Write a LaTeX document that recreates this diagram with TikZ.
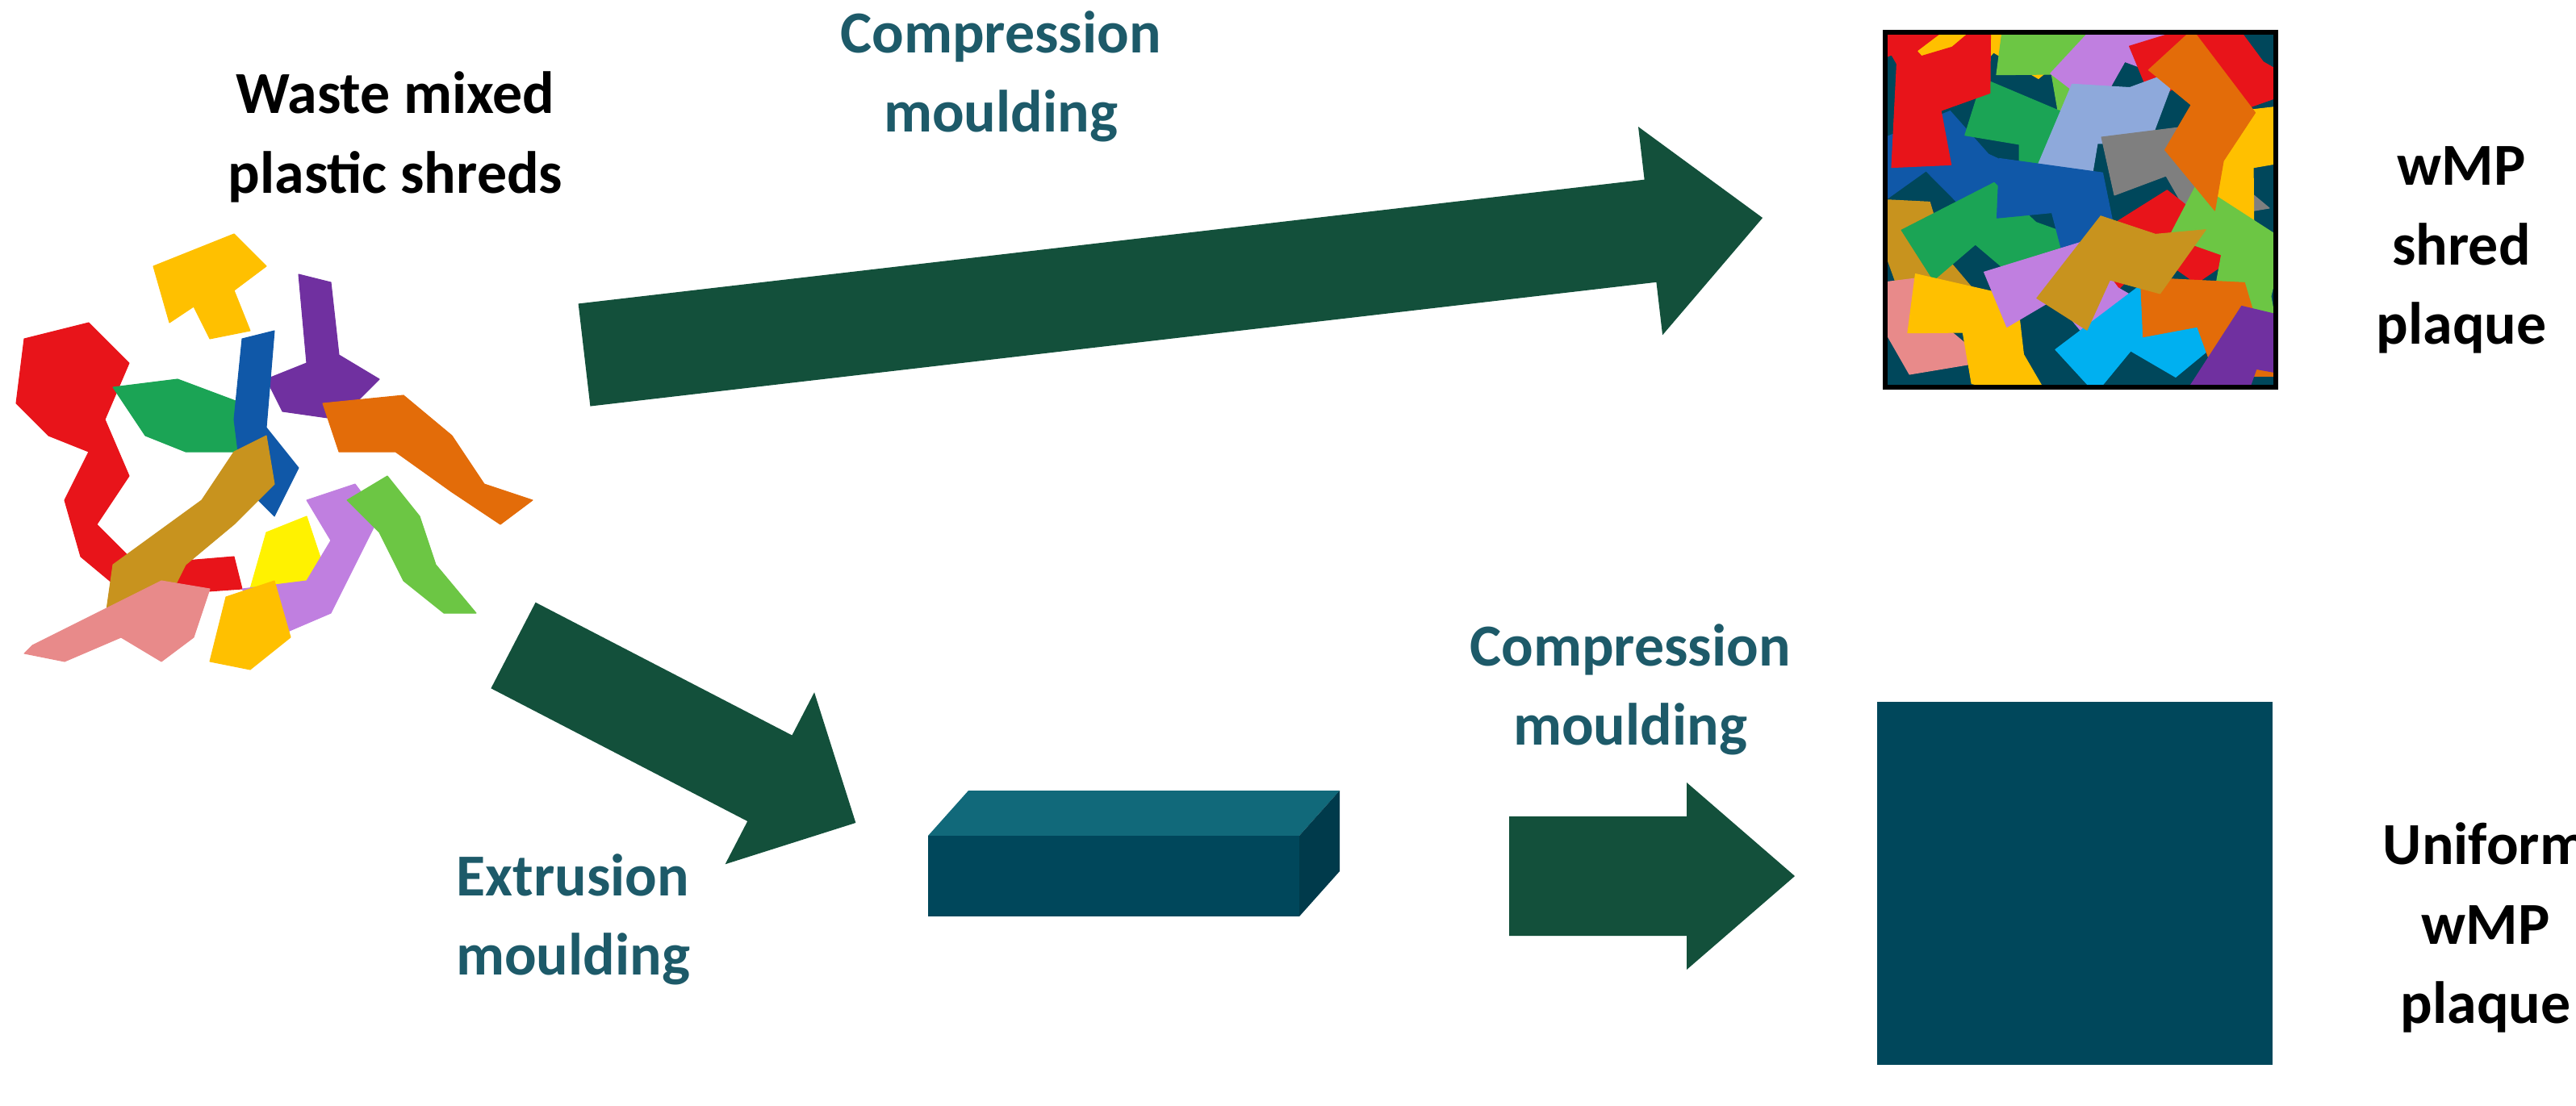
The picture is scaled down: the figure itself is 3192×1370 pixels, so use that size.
\documentclass[tikz,border=0pt]{standalone}
\usepackage{fontspec}
\setmainfont{Carlito}
\definecolor{arrowgreen}{HTML}{13503B}
\definecolor{tealtext}{HTML}{1D5A69}
\definecolor{plaque}{HTML}{00475B}
\definecolor{boxtop}{HTML}{11697A}
\definecolor{boxside}{HTML}{003A4B}
\definecolor{sred}{HTML}{E8141A}
\definecolor{syellow}{HTML}{FFC000}
\definecolor{spurple}{HTML}{7030A0}
\definecolor{sblue}{HTML}{1058A8}
\definecolor{sgreen}{HTML}{1BA455}
\definecolor{stan}{HTML}{C8931E}
\definecolor{slilac}{HTML}{C07FE0}
\definecolor{slime}{HTML}{6CC644}
\definecolor{spink}{HTML}{E88A8A}
\definecolor{sorange}{HTML}{E36C09}
\definecolor{slemon}{HTML}{FFF200}
\definecolor{scyan}{HTML}{00B0F0}
\definecolor{sgrey}{HTML}{7F7F7F}
\definecolor{ssteel}{HTML}{8EA9DB}
\tikzset{
  txt/.style={font=\fontsize{21}{28}\selectfont\bfseries, align=center},
  steptxt/.style={txt, text=tealtext},
  shred/.style={draw=gray!70, line width=0.3pt, line join=round},
}
% fat arrow: length, half width, head half width, head length
\newcommand{\fatarrow}[4]{\fill[arrowgreen] (0,-#2) -- (#1-#4,-#2) -- (#1-#4,-#3) -- (#1,0) -- (#1-#4,#3) -- (#1-#4,#2) -- (0,#2) -- cycle;}
\begin{document}
\begin{tikzpicture}[x=0.01cm, y=-0.01cm]
\useasboundingbox (0,0) rectangle (3192,1370);

% labels
\node[txt] (waste) at (490,170) {Waste mixed\\plastic shreds};
\node[steptxt] (cm1) at (1240,95) {Compression\\moulding};
\node[steptxt] (cm2) at (2020,855) {Compression\\moulding};
\node[steptxt] (ext) at (710,1140) {Extrusion\\moulding};
\node[txt] (shredlbl) at (3050,310) {wMP\\shred\\plaque};
\node[txt] (unilbl) at (3080,1150) {Uniform\\wMP\\plaque};

% shreds
\begin{scope}
\fill[shred, sred] (30,420) -- (110,400) -- (160,450) -- (130,520) -- (160,590) -- (120,650) -- (170,700) -- (290,690) -- (300,730) -- (160,740) -- (100,690) -- (80,620) -- (110,560) -- (60,540) -- (20,500) -- cycle;
\fill[shred, syellow] (190,330) -- (290,290) -- (330,330) -- (290,360) -- (310,410) -- (260,420) -- (240,380) -- (210,400) -- cycle;
\fill[shred, spurple] (370,340) -- (410,350) -- (420,440) -- (470,470) -- (420,520) -- (350,510) -- (330,470) -- (380,450) -- cycle;
\fill[shred, sorange] (400,500) -- (500,490) -- (560,540) -- (600,600) -- (660,620) -- (620,650) -- (560,610) -- (490,560) -- (420,560) -- cycle;
\fill[shred, sgreen] (140,480) -- (220,470) -- (300,500) -- (300,560) -- (230,560) -- (180,540) -- cycle;
\fill[shred, sblue] (300,420) -- (340,410) -- (330,530) -- (370,580) -- (340,640) -- (300,600) -- (290,520) -- cycle;
\fill[shred, stan] (140,700) -- (250,620) -- (290,560) -- (330,540) -- (340,600) -- (290,650) -- (230,700) -- (200,760) -- (130,770) -- cycle;
\fill[shred, slemon] (330,660) -- (380,640) -- (400,700) -- (360,740) -- (310,730) -- cycle;
\fill[shred, slilac] (380,620) -- (440,600) -- (470,640) -- (440,700) -- (410,760) -- (340,790) -- (300,730) -- (380,720) -- (410,670) -- cycle;
\fill[shred, slime] (430,620) -- (480,590) -- (520,640) -- (540,700) -- (590,760) -- (550,760) -- (500,720) -- (470,660) -- cycle;
\fill[shred, syellow] (280,740) -- (340,720) -- (360,790) -- (310,830) -- (260,820) -- cycle;
\fill[shred, spink] (40,800) -- (120,760) -- (200,720) -- (260,730) -- (240,790) -- (200,820) -- (150,790) -- (80,820) -- (30,810) -- cycle;
\end{scope}

% shred plaque
\begin{scope}
\clip (2336,40) rectangle (2820,480);
\fill[plaque] (2336,40) rectangle (2820,480);
\foreach \c/\x/\y/\r in {sred/2360/60/0, syellow/2480/50/30, slime/2560/90/-20, slilac/2640/60/40, sred/2740/80/10,
  sblue/2400/200/15, sgreen/2520/180/-30, ssteel/2600/160/60, sgrey/2700/210/0, syellow/2790/190/70,
  stan/2350/300/-10, sgreen/2460/290/20, sblue/2560/260/-15, sred/2680/300/25, slime/2770/320/-40,
  spink/2350/400/0, syellow/2450/410/-20, slilac/2560/360/10, scyan/2650/420/30, sorange/2740/400/-10, spurple/2800/440/50,
  sred/2400/120/80, sorange/2730/140/-60, stan/2620/330/45}
  \fill[shred, \c, shift={(\x,\y)}, rotate=\r, scale=1.6] (-60,-25) -- (20,-35) -- (40,5) -- (70,30) -- (10,40) -- (-10,5) -- (-50,20) -- cycle;
\end{scope}
\draw[line width=1.5pt] (2336,40) rectangle (2820,480);

% uniform plaque
\fill[plaque] (2326,870) rectangle (2816,1320);

% extruded bar
\fill[boxtop] (1150,1036) -- (1200,980) -- (1660,980) -- (1610,1036) -- cycle;
\fill[boxside] (1610,1036) -- (1660,980) -- (1660,1080) -- (1610,1136) -- cycle;
\fill[plaque] (1150,1036) rectangle (1610,1136);

% arrows
\begin{scope}[shift={(724,440)}, rotate=6.64]
\fatarrow{1470}{64}{130}{140}
\end{scope}
\begin{scope}[shift={(636,800)}, rotate=-27.4]
\fatarrow{478}{60}{120}{120}
\end{scope}
\begin{scope}[shift={(1870,1086)}]
\fatarrow{354}{74}{116}{134}
\end{scope}
\end{tikzpicture}
\end{document}
